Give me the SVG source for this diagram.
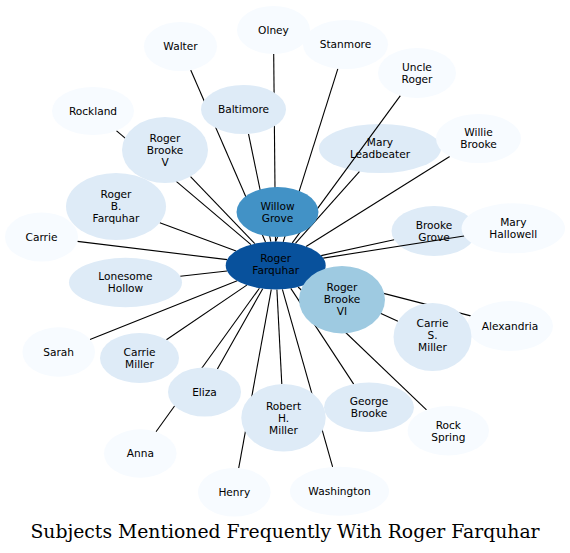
<svg xmlns="http://www.w3.org/2000/svg" width="570" height="553" viewBox="0 0 570 553">
<style>
.n0{fill:#f7fbff}.n1{fill:#deebf7}.n2{fill:#9ecae1}.n3{fill:#4292c6}.n4{fill:#08519c}
.lbl{font-family:"DejaVu Sans","Liberation Sans",sans-serif;font-size:10.6px;fill:#000;text-anchor:middle}
.title{font-family:"DejaVu Serif","Liberation Serif",serif;font-size:18.8px;fill:#000;text-anchor:middle}
#edges line{stroke:#000;stroke-width:1.1}
</style>
<rect width="570" height="553" fill="#fff"/>
<g id="mary-leadbeater"><ellipse class="n1" cx="380" cy="148.5" rx="61" ry="24.5"/><text class="lbl" x="380" y="146.3">Mary</text><text class="lbl" x="380" y="158.3">Leadbeater</text></g>
<g id="brooke-grove"><ellipse class="n1" cx="434" cy="231" rx="42.5" ry="25"/><text class="lbl" x="434" y="228.8">Brooke</text><text class="lbl" x="434" y="240.8">Grove</text></g>
<g id="edges">
<line x1="190.7" y1="70" x2="265.5" y2="242"/>
<line x1="273.7" y1="54" x2="275.5" y2="241.5"/>
<line x1="337.9" y1="68.6" x2="283.2" y2="241.8"/>
<line x1="400.4" y1="95.6" x2="292.3" y2="242.9"/>
<line x1="359.4" y1="171.6" x2="295.4" y2="243.4"/>
<line x1="449.7" y1="156.5" x2="306.1" y2="246.5"/>
<line x1="394.1" y1="239.7" x2="321.2" y2="255.6"/>
<line x1="464.1" y1="236" x2="323.2" y2="258.1"/>
<line x1="470.7" y1="315.9" x2="319.7" y2="276.9"/>
<line x1="397.9" y1="321.2" x2="312" y2="282"/>
<line x1="426.5" y1="409.8" x2="298.1" y2="287"/>
<line x1="353.7" y1="384.1" x2="290.8" y2="288.4"/>
<line x1="332.6" y1="466.9" x2="282.4" y2="289.3"/>
<line x1="281.8" y1="384" x2="276.9" y2="289.5"/>
<line x1="238.7" y1="468.2" x2="271.3" y2="289.4"/>
<line x1="217.4" y1="369.1" x2="262.7" y2="288.7"/>
<line x1="156" y1="431.7" x2="259.4" y2="288.2"/>
<line x1="166.4" y1="339.7" x2="246.8" y2="285.1"/>
<line x1="90" y1="339.5" x2="237.2" y2="280.8"/>
<line x1="180.2" y1="276.3" x2="227" y2="271"/>
<line x1="77.4" y1="241.4" x2="227.2" y2="259.6"/>
<line x1="159.8" y1="222.7" x2="236.1" y2="250.9"/>
<line x1="190.5" y1="176.6" x2="254.8" y2="243.7"/>
<line x1="116.3" y1="130.7" x2="251" y2="244.6"/>
<line x1="248.5" y1="133.8" x2="270.8" y2="241.6"/>
<line x1="277.6" y1="237" x2="275.7" y2="241.5"/>
</g>
<g id="walter"><ellipse class="n0" cx="180.5" cy="46.5" rx="36.5" ry="24.5"/><text class="lbl" x="180.5" y="50.3">Walter</text></g>
<g id="olney"><ellipse class="n0" cx="273.5" cy="30" rx="36.5" ry="24"/><text class="lbl" x="273.5" y="33.8">Olney</text></g>
<g id="stanmore"><ellipse class="n0" cx="345.5" cy="44.5" rx="42.5" ry="24.5"/><text class="lbl" x="345.5" y="48.3">Stanmore</text></g>
<g id="uncle-roger"><ellipse class="n0" cx="417" cy="73" rx="39" ry="25"/><text class="lbl" x="417" y="70.8">Uncle</text><text class="lbl" x="417" y="82.8">Roger</text></g>
<g id="rockland"><ellipse class="n0" cx="93" cy="111" rx="41" ry="24"/><text class="lbl" x="93" y="114.8">Rockland</text></g>
<g id="baltimore"><ellipse class="n1" cx="243.5" cy="109.5" rx="42.5" ry="24.5"/><text class="lbl" x="243.5" y="113.3">Baltimore</text></g>
<g id="willie-brooke"><ellipse class="n0" cx="478.5" cy="138.5" rx="42.5" ry="24.5"/><text class="lbl" x="478.5" y="136.3">Willie</text><text class="lbl" x="478.5" y="148.3">Brooke</text></g>
<g id="roger-brooke-v"><ellipse class="n1" cx="165" cy="150" rx="43" ry="33"/><text class="lbl" x="165" y="141.8">Roger</text><text class="lbl" x="165" y="153.8">Brooke</text><text class="lbl" x="165" y="165.8">V</text></g>
<g id="roger-b-farquhar"><ellipse class="n1" cx="116" cy="206.5" rx="50" ry="33.5"/><text class="lbl" x="116" y="198.3">Roger</text><text class="lbl" x="116" y="210.3">B.</text><text class="lbl" x="116" y="222.3">Farquhar</text></g>
<g id="willow-grove"><ellipse class="n3" cx="277.5" cy="212" rx="41" ry="25"/><text class="lbl" x="277.5" y="209.8">Willow</text><text class="lbl" x="277.5" y="221.8">Grove</text></g>
<g id="carrie"><ellipse class="n0" cx="41.5" cy="237" rx="36.5" ry="24.5"/><text class="lbl" x="41.5" y="240.8">Carrie</text></g>
<g id="mary-hallowell"><ellipse class="n0" cx="513.3" cy="228.3" rx="51.7" ry="25"/><text class="lbl" x="513.3" y="226.1">Mary</text><text class="lbl" x="513.3" y="238.1">Hallowell</text></g>
<g id="lonesome-hollow"><ellipse class="n1" cx="125.5" cy="282.5" rx="56.5" ry="24.7"/><text class="lbl" x="125.5" y="280.3">Lonesome</text><text class="lbl" x="125.5" y="292.3">Hollow</text></g>
<g id="roger-farquhar"><ellipse class="n4" cx="275.7" cy="265.5" rx="50" ry="24"/><text class="lbl" x="275.7" y="262.3">Roger</text><text class="lbl" x="275.7" y="274.3">Farquhar</text></g>
<g id="roger-brooke-vi"><ellipse class="n2" cx="342" cy="299.7" rx="43" ry="33.7"/><text class="lbl" x="342" y="290.5">Roger</text><text class="lbl" x="342" y="302.5">Brooke</text><text class="lbl" x="342" y="314.5">VI</text></g>
<g id="alexandria"><ellipse class="n0" cx="510" cy="326" rx="43" ry="25"/><text class="lbl" x="510" y="329.8">Alexandria</text></g>
<g id="carrie-s-miller"><ellipse class="n1" cx="432.5" cy="337" rx="39" ry="34"/><text class="lbl" x="432.5" y="327.1">Carrie</text><text class="lbl" x="432.5" y="339.1">S.</text><text class="lbl" x="432.5" y="351.1">Miller</text></g>
<g id="sarah"><ellipse class="n0" cx="58.7" cy="352" rx="36.3" ry="24.7"/><text class="lbl" x="58.7" y="355.8">Sarah</text></g>
<g id="carrie-miller"><ellipse class="n1" cx="139.5" cy="358" rx="39.5" ry="25"/><text class="lbl" x="139.5" y="355.8">Carrie</text><text class="lbl" x="139.5" y="367.8">Miller</text></g>
<g id="eliza"><ellipse class="n1" cx="204.5" cy="392" rx="36.5" ry="24.5"/><text class="lbl" x="204.5" y="395.8">Eliza</text></g>
<g id="robert-h-miller"><ellipse class="n1" cx="283.5" cy="417.8" rx="42.2" ry="33.8"/><text class="lbl" x="283.5" y="409.6">Robert</text><text class="lbl" x="283.5" y="421.6">H.</text><text class="lbl" x="283.5" y="433.6">Miller</text></g>
<g id="george-brooke"><ellipse class="n1" cx="369" cy="407.3" rx="45" ry="24.7"/><text class="lbl" x="369" y="405.1">George</text><text class="lbl" x="369" y="417.1">Brooke</text></g>
<g id="rock-spring"><ellipse class="n0" cx="448.3" cy="430.7" rx="40.7" ry="24.7"/><text class="lbl" x="448.3" y="428.5">Rock</text><text class="lbl" x="448.3" y="440.5">Spring</text></g>
<g id="anna"><ellipse class="n0" cx="140.3" cy="453.5" rx="36.3" ry="24.2"/><text class="lbl" x="140.3" y="457.3">Anna</text></g>
<g id="henry"><ellipse class="n0" cx="234.3" cy="492.3" rx="36.3" ry="24.3"/><text class="lbl" x="234.3" y="496.1">Henry</text></g>
<g id="washington"><ellipse class="n0" cx="339.5" cy="491.2" rx="49.5" ry="24.5"/><text class="lbl" x="339.5" y="495">Washington</text></g>
<text class="title" x="285" y="537.7">Subjects Mentioned Frequently With Roger Farquhar</text>
</svg>
